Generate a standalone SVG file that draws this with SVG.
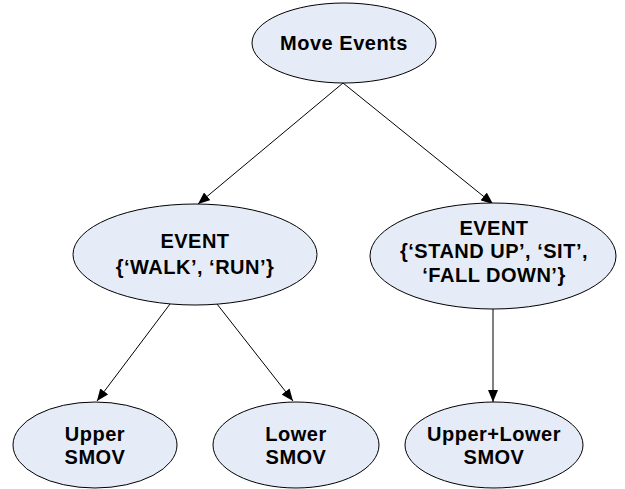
<svg xmlns="http://www.w3.org/2000/svg" width="625" height="489" viewBox="0 0 625 489">
<style>
.node ellipse { fill: #e6ecf7; stroke: #000; stroke-width: 1; }
.node text { font-family: "Liberation Sans", Arial, sans-serif; font-weight: bold; font-size: 20px; letter-spacing: 0.5px; text-anchor: middle; fill: #000; }
.edge { stroke: #000; stroke-width: 1; fill: none; marker-end: url(#arrow); }
</style>
<defs>
<marker id="arrow" viewBox="0 0 12 10" refX="12" refY="5" markerWidth="12" markerHeight="10" markerUnits="userSpaceOnUse" orient="auto">
<path d="M0,0 L12,5 L0,10 Z" fill="#000"/>
</marker>
</defs>
<rect width="625" height="489" fill="#fff"/>
<g id="connectors">
<line class="edge" x1="343" y1="83" x2="198" y2="204"/>
<line class="edge" x1="343" y1="83" x2="493" y2="204"/>
<line class="edge" x1="170" y1="304" x2="97" y2="401"/>
<line class="edge" x1="217" y1="304" x2="293" y2="401"/>
<line class="edge" x1="493" y1="309" x2="493" y2="402"/>
</g>
<g id="move-events" class="node">
<ellipse cx="344" cy="43" rx="92" ry="40"/>
<text x="344" y="50">Move Events</text>
</g>
<g id="event-walk-run" class="node">
<ellipse cx="195" cy="254.5" rx="122" ry="50.5"/>
<text x="195" y="248">EVENT</text>
<text x="195" y="274">{‘WALK’, ‘RUN’}</text>
</g>
<g id="event-stand-sit-fall" class="node">
<ellipse cx="493" cy="256" rx="123" ry="53"/>
<text x="494" y="235">EVENT</text>
<text x="494" y="258">{‘STAND UP’, ‘SIT’,</text>
<text x="494" y="282">‘FALL DOWN’}</text>
</g>
<g id="upper-smov" class="node">
<ellipse cx="95" cy="445" rx="82" ry="43"/>
<text x="95" y="441">Upper</text>
<text x="95" y="464">SMOV</text>
</g>
<g id="lower-smov" class="node">
<ellipse cx="296" cy="445" rx="83" ry="43"/>
<text x="296" y="441">Lower</text>
<text x="296" y="464">SMOV</text>
</g>
<g id="upper-lower-smov" class="node">
<ellipse cx="494" cy="445" rx="89" ry="43"/>
<text x="494" y="441">Upper+Lower</text>
<text x="494" y="464">SMOV</text>
</g>
</svg>
